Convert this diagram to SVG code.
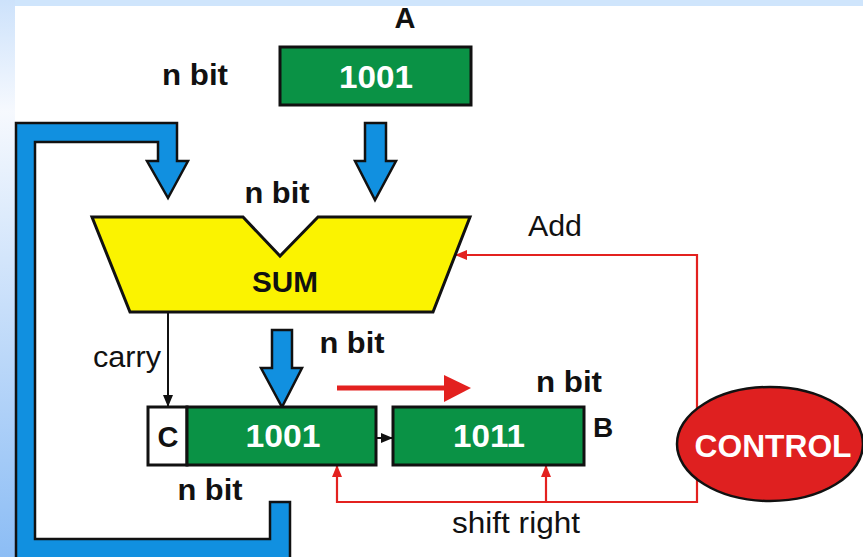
<svg xmlns="http://www.w3.org/2000/svg" width="863" height="557" viewBox="0 0 863 557">
<defs>
<linearGradient id="bg" x1="0" y1="0" x2="0" y2="1">
<stop offset="0" stop-color="#cde2fb"/>
<stop offset="0.2" stop-color="#f6f9fe"/>
<stop offset="1" stop-color="#8cbdf5"/>
</linearGradient>
<marker id="ra" viewBox="0 0 12 10" refX="12" refY="5" markerWidth="12" markerHeight="10" markerUnits="userSpaceOnUse" orient="auto">
<path d="M0,0 L12,5 L0,10 Z" fill="#e3211f"/>
</marker>
<marker id="ka" viewBox="0 0 12 10" refX="12" refY="5" markerWidth="12" markerHeight="10" markerUnits="userSpaceOnUse" orient="auto">
<path d="M0,0 L12,5 L0,10 Z" fill="#111"/>
</marker>
</defs>
<style>
.b{font-family:"Liberation Sans",Arial,sans-serif;font-weight:bold;fill:#111;text-anchor:middle}
.w{font-family:"Liberation Sans",Arial,sans-serif;font-weight:bold;fill:#fff;text-anchor:middle}
.r{font-family:"Liberation Sans",Arial,sans-serif;font-weight:normal;fill:#111}
.reg{fill:#0a9245;stroke:#111;stroke-width:3}
.blue{fill:#1190e0;stroke:#111;stroke-width:2.5;stroke-linejoin:miter}
.red{fill:none;stroke:#e3211f;stroke-width:2.2}
</style>
<rect x="0" y="0" width="863" height="557" fill="#cfe5fc"/>
<rect x="0" y="0" width="15" height="557" fill="url(#bg)"/>
<rect x="15" y="6" width="848" height="551" fill="#ffffff"/>

<g id="connectors">
<path class="blue" d="M290,502 L290,562 L16,562 L16,123 L177,123 L177,161 L188,161 L168,198 L147,161 L158,161 L158,142 L35,142 L35,539 L270,539 L270,502 Z"/>
<path class="blue" d="M365,123 L386,123 L386,161 L396,161 L375,200 L355,161 L365,161 Z"/>
<path class="blue" d="M272,330 L292,330 L292,368 L302,368 L282,407 L261,368 L272,368 Z"/>
<line x1="168" y1="312" x2="168" y2="407" stroke="#111" stroke-width="2" marker-end="url(#ka)"/>
<line x1="376" y1="438" x2="393" y2="438" stroke="#111" stroke-width="2" marker-end="url(#ka)"/>
<polyline class="red" points="697,440 697,255 455,255" marker-end="url(#ra)"/>
<polyline class="red" points="697,440 697,502 337,502 337,465" marker-end="url(#ra)"/>
<line class="red" x1="546" y1="502" x2="546" y2="465" marker-end="url(#ra)"/>
<line x1="337" y1="388" x2="447" y2="388" stroke="#e3211f" stroke-width="5"/>
<path d="M444,375 L471,388 L444,402 Z" fill="#e3211f"/>
</g>

<g id="regA">
<rect class="reg" x="280" y="47" width="191" height="58"/>
<text class="w" x="376" y="88" font-size="32" textLength="74" lengthAdjust="spacingAndGlyphs">1001</text>
</g>
<text class="b" x="405" y="28" font-size="29">A</text>
<text class="b" x="195" y="85" font-size="29" textLength="66" lengthAdjust="spacingAndGlyphs">n bit</text>

<g id="sum">
<path d="M92,217 L243,217 L280,256 L318,217 L470,217 L433,312 L130,312 Z" fill="#fbf300" stroke="#111" stroke-width="3" stroke-linejoin="miter"/>
<text class="b" x="285" y="292" font-size="29" textLength="66" lengthAdjust="spacingAndGlyphs">SUM</text>
</g>
<text class="b" x="277" y="203" font-size="29" textLength="65" lengthAdjust="spacingAndGlyphs">n bit</text>
<text class="r" x="528" y="236" font-size="30" textLength="54" lengthAdjust="spacingAndGlyphs">Add</text>
<text class="r" x="161" y="367" font-size="30" text-anchor="end" textLength="68" lengthAdjust="spacingAndGlyphs">carry</text>
<text class="b" x="352" y="353" font-size="29" textLength="65" lengthAdjust="spacingAndGlyphs">n bit</text>
<text class="b" x="569" y="392" font-size="29" textLength="66" lengthAdjust="spacingAndGlyphs">n bit</text>

<g id="carryC">
<rect x="148" y="407" width="39" height="58" fill="#fff" stroke="#111" stroke-width="3"/>
<text class="b" x="168" y="447" font-size="29">C</text>
</g>
<g id="regAcc">
<rect class="reg" x="187" y="407" width="189" height="58"/>
<text class="w" x="283" y="447" font-size="31" textLength="75" lengthAdjust="spacingAndGlyphs">1001</text>
</g>
<g id="regB">
<rect class="reg" x="393" y="407" width="191" height="58"/>
<text class="w" x="489" y="447" font-size="31" textLength="72" lengthAdjust="spacingAndGlyphs">1011</text>
</g>
<text class="b" x="603" y="437" font-size="28">B</text>
<text class="b" x="210" y="500" font-size="29" textLength="65" lengthAdjust="spacingAndGlyphs">n bit</text>
<text class="r" x="516" y="533" font-size="30" text-anchor="middle" textLength="128" lengthAdjust="spacingAndGlyphs">shift right</text>

<g id="control">
<ellipse cx="770" cy="444" rx="93" ry="57" fill="#df2020" stroke="#111" stroke-width="2.5"/>
<text class="w" x="773" y="457" font-size="32" textLength="157" lengthAdjust="spacingAndGlyphs">CONTROL</text>
</g>
</svg>
